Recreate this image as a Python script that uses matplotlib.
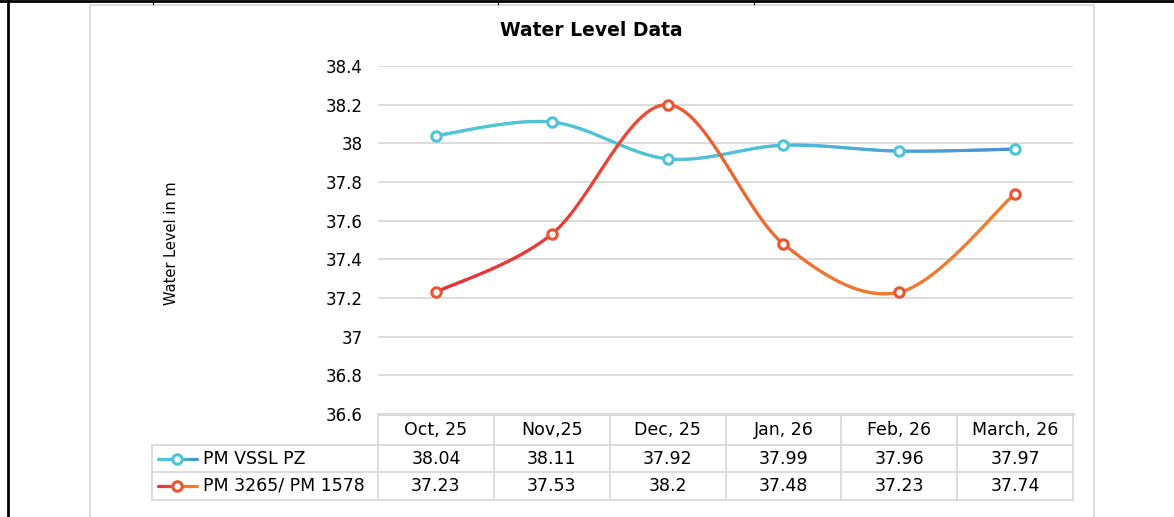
import numpy as np
import matplotlib
matplotlib.use("Agg")
import matplotlib.pyplot as plt
import matplotlib.transforms as mtransforms
from matplotlib.collections import LineCollection
from matplotlib.colors import LinearSegmentedColormap
from matplotlib.lines import Line2D
from matplotlib.patches import Rectangle

# data
months = ["Oct, 25", "Nov,25", "Dec, 25", "Jan, 26", "Feb, 26", "March, 26"]
vssl = [38.04, 38.11, 37.92, 37.99, 37.96, 37.97]
pm3265 = [37.23, 37.53, 38.2, 37.48, 37.23, 37.74]
series_names = ["PM VSSL PZ", "PM 3265/ PM 1578"]
y_ticks = [36.6, 36.8, 37, 37.2, 37.4, 37.6, 37.8, 38, 38.2, 38.4]

W, H = 1174, 517
GRID = "#D9D9D9"
TXT = "black"

blue_cmap = LinearSegmentedColormap.from_list(
    "bl", [(0, "#4FC6D6"), (0.55, "#50C0D8"), (1, "#4A8FD2")])
red_cmap = LinearSegmentedColormap.from_list(
    "rd", [(0, "#E6323A"), (0.3, "#E84536"), (0.5, "#EE6230"), (0.7, "#F0782E"), (1, "#EF7D2E")])


def fx(px):
    return px / W


def fy(py):
    return 1 - py / H


def smooth(xs, ys, n=40):
    # excel-ish smoothing (catmull-rom as bezier)
    pts = np.column_stack([xs, ys]).astype(float)
    p = np.vstack([pts[0], pts, pts[-1]])
    out = []
    for i in range(1, len(p) - 2):
        p0, p1, p2, p3 = p[i - 1], p[i], p[i + 1], p[i + 2]
        c1 = p1 + (p2 - p0) / 6
        c2 = p2 - (p3 - p1) / 6
        t = np.linspace(0, 1, n)[:, None]
        seg = (1 - t) ** 3 * p1 + 3 * (1 - t) ** 2 * t * c1 + 3 * (1 - t) * t ** 2 * c2 + t ** 3 * p2
        out.append(seg if i == 1 else seg[1:])
    return np.vstack(out)


def grad_segments(pts, cmap, lw, **kw):
    segs = np.stack([pts[:-1], pts[1:]], axis=1)
    t = (pts[:-1, 0] + pts[1:, 0]) / 2
    t = (t - pts[0, 0]) / (pts[-1, 0] - pts[0, 0])
    return LineCollection(segs, colors=cmap(t), linewidths=lw, capstyle="round",
                          joinstyle="round", **kw)


fig = plt.figure(figsize=(W / 100, H / 100), dpi=100)
fig.patch.set_facecolor("white")

# outer page lines
fig.add_artist(Line2D([0, 1], [fy(1), fy(1)], color="black", lw=2.0))
fig.add_artist(Line2D([fx(7.5), fx(7.5)], [0, 1], color="black", lw=2.0))
for px in [153, 498, 754]:
    fig.add_artist(Line2D([fx(px), fx(px)], [fy(0), fy(4)], color="black", lw=0.8))

# chart area border
fig.add_artist(Rectangle((fx(90), fy(530)), fx(1094) - fx(90), fy(5) - fy(530),
                         fill=False, edgecolor=GRID, lw=1.3, transform=fig.transFigure))

ax = fig.add_axes([fx(378), fy(414), fx(1073) - fx(378), fy(66) - fy(414)])
ax.set_xlim(-0.5, len(months) - 0.5)
ax.set_ylim(y_ticks[0], y_ticks[-1])
ax.set_yticks(y_ticks)
ax.set_yticklabels(["{:g}".format(v) for v in y_ticks])
ax.set_xticks([])
ax.tick_params(axis="y", length=0, pad=11, labelsize=12, labelcolor=TXT)
for s in ax.spines.values():
    s.set_visible(False)
ax.grid(axis="y", color=GRID, lw=1.3)
ax.set_axisbelow(True)

x = np.arange(len(months))
series = [(vssl, blue_cmap, "#52C2D8"), (pm3265, red_cmap, "#EC5533")]
for vals, cmap, mcol in series:
    pts = smooth(x, vals)
    ax.add_collection(grad_segments(pts, cmap, 2.3, zorder=2))
    ax.plot(x, vals, ls="none", marker="o", ms=6.8, mew=2.2, mfc="white", mec=mcol, zorder=3)

fig.text(fx(591), fy(30), "Water Level Data", ha="center", va="center",
         fontsize=13.5, fontweight="bold", color=TXT)
fig.text(fx(172), fy(243), "Water Level in m", ha="center", va="center",
         rotation=90, fontsize=10.5, color=TXT)

# data table under the axis
tb = mtransforms.blended_transform_factory(ax.transData, fig.transFigure)
rows_y = [415, 445, 472, 500]
tl = dict(color=GRID, lw=1.3)
fig.add_artist(Line2D([fx(378), fx(1073)], [fy(414), fy(414)], color=GRID, lw=2.2))
for ry in rows_y[1:]:
    fig.add_artist(Line2D([fx(152), fx(1073)], [fy(ry), fy(ry)], **tl))
fig.add_artist(Line2D([fx(152), fx(152)], [fy(445), fy(500)], **tl))
for i in range(len(months) + 1):
    xb = i - 0.5
    ax.add_line(Line2D([xb, xb], [fy(415), fy(500)], transform=tb, clip_on=False, **tl))

header_y = (rows_y[0] + rows_y[1]) / 2
for i, m in enumerate(months):
    fig.text(i, fy(header_y), m, transform=tb, ha="center", va="center",
             fontsize=12.5, color=TXT)

for r, ((vals, cmap, mcol), name) in enumerate(zip(series, series_names)):
    cy = (rows_y[r + 1] + rows_y[r + 2]) / 2
    for i, v in enumerate(vals):
        fig.text(i, fy(cy), "{:g}".format(v), transform=tb, ha="center", va="center",
                 fontsize=12.5, color=TXT)
    # legend key
    kx = np.linspace(fx(158), fx(197), 20)
    key_pts = np.column_stack([kx, np.full_like(kx, fy(cy))])
    fig.add_artist(grad_segments(key_pts, cmap, 2.3, transform=fig.transFigure))
    fig.add_artist(Line2D([fx(177)], [fy(cy)], marker="o", ms=6.8, mew=2.2, mfc="white",
                          mec=mcol, transform=fig.transFigure))
    fig.text(fx(203), fy(cy), name, ha="left", va="center", fontsize=12.5, color=TXT)

fig.savefig("out.png", dpi=100, facecolor="white")
